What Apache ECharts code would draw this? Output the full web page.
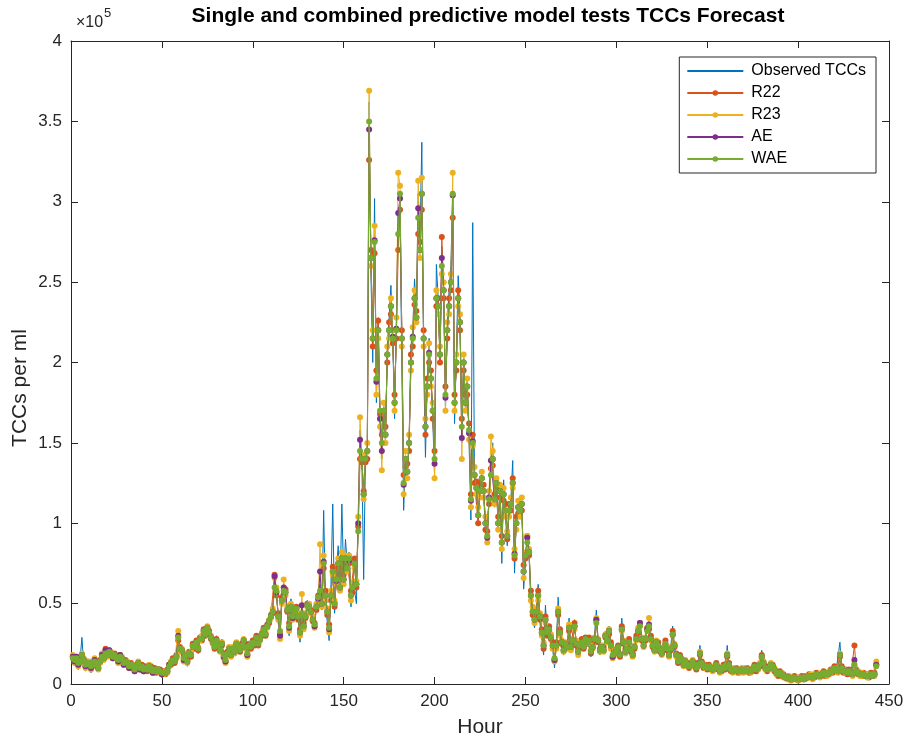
<!DOCTYPE html>
<html>
<head>
<meta charset="utf-8">
<script src="https://cdn.jsdelivr.net/npm/echarts@6/dist/echarts.min.js"></script>
<style>
  html, body { margin: 0; background: #fff; }
  #chart { width: 909px; height: 743px; }
</style>
</head>
<body>
<div id="chart"></div>
<script>
// TCC values in thousands per ml, one value per hour starting at hour 1
const observed = [
  16, 13, 18, 9, 15, 29, 12, 8, 14, 12,
  7, 11, 16, 10, 8, 15, 19, 14, 21, 18,
  22, 19, 16, 20, 15, 13, 18, 16, 11, 14,
  12, 9, 13, 10, 7, 12, 15, 8, 11, 7,
  10, 8, 12, 11, 6, 9, 7, 10, 8, 4,
  7, 6, 9, 12, 14, 16, 13, 19, 34, 21,
  23, 14, 19, 11, 21, 17, 26, 22, 28, 19,
  31, 27, 35, 30, 36, 31, 28, 25, 21, 30,
  24, 19, 28, 15, 12, 20, 23, 16, 24, 19,
  27, 22, 19, 25, 29, 21, 17, 26, 23, 28,
  24, 31, 23, 29, 33, 36, 29, 38, 41, 44,
  46, 65, 60, 38, 29, 56, 62, 58, 44, 30,
  53, 40, 46, 49, 41, 26, 47, 33, 43, 52,
  49, 44, 38, 35, 52, 57, 62, 46, 108, 52,
  38, 27, 62, 112, 44, 72, 86, 58, 112, 66,
  90, 74, 82, 48, 62, 58, 50, 104, 158, 140,
  65, 142, 145, 362, 255, 200, 302, 175, 228, 160,
  140, 175, 150, 210, 228, 248, 215, 165, 225, 294,
  290, 200, 108, 140, 128, 150, 210, 220, 252, 230,
  305, 280, 337, 200, 141, 190, 215, 190, 165, 130,
  261, 240, 201, 272, 250, 170, 225, 245, 260, 305,
  162, 205, 254, 230, 150, 205, 170, 190, 150, 102,
  287, 125, 118, 100, 125, 130, 118, 95, 88, 120,
  135, 150, 110, 128, 95, 125, 75, 127, 105, 86,
  110, 115, 139, 69, 105, 112, 108, 115, 59, 75,
  88, 80, 49, 40, 35, 45, 62, 38, 28, 18,
  49, 30, 35, 28, 22, 10, 25, 54, 30, 24,
  18, 26, 22, 41, 20, 28, 40, 22, 18, 25,
  27, 22, 30, 26, 28, 17, 24, 30, 46, 26,
  18, 24, 20, 33, 28, 36, 22, 15, 19, 21,
  24, 16, 41, 25, 18, 22, 28, 20, 16, 24,
  30, 35, 38, 26, 22, 30, 35, 38, 27, 22,
  19, 28, 24, 20, 18, 23, 26, 21, 17, 24,
  36, 22, 16, 12, 18, 14, 11, 15, 12, 10,
  13, 16, 12, 9, 14, 24, 12, 10, 11, 9,
  12, 10, 8, 11, 13, 9, 7, 10, 12, 9,
  24, 11, 8, 7, 9, 10, 8, 7, 9, 8,
  10, 9, 7, 8, 10, 12, 9, 11, 14, 21,
  12, 9, 8, 10, 13, 11, 8, 6, 5, 7,
  5, 4, 3, 4, 3, 2, 3, 4, 3, 2,
  3, 4, 3, 5, 4, 6, 5, 4, 6, 7,
  5, 4, 6, 8, 6, 5, 7, 9, 8, 12,
  9, 8, 26, 9, 7, 8, 7, 9, 6, 5,
  8, 7, 6, 5, 7, 6, 5, 4, 5, 6,
  5, 7, 12
];

const r22 = [
  17, 14, 17, 12, 15, 17, 14, 11, 14, 12,
  10, 13, 15, 11, 10, 15, 18, 17, 22, 19,
  21, 18, 16, 19, 17, 14, 18, 15, 12, 15,
  12, 10, 13, 10, 9, 12, 12, 9, 12, 8,
  11, 8, 10, 11, 7, 10, 7, 9, 9, 6,
  8, 6, 9, 12, 12, 16, 13, 18, 27, 23,
  20, 17, 17, 15, 20, 17, 25, 22, 27, 21,
  29, 27, 34, 30, 34, 33, 28, 27, 22, 28,
  23, 22, 24, 19, 14, 20, 21, 19, 21, 21,
  24, 24, 20, 25, 26, 24, 18, 25, 22, 27,
  24, 30, 24, 29, 30, 35, 30, 37, 38, 43,
  44, 68, 55, 44, 31, 54, 56, 59, 45, 38,
  46, 43, 44, 48, 40, 34, 43, 38, 41, 50,
  47, 46, 39, 38, 46, 55, 56, 52, 72, 58,
  43, 37, 52, 73, 48, 67, 72, 63, 75, 68,
  76, 74, 75, 58, 57, 78, 60, 98, 140, 138,
  120, 138, 140, 326, 270, 210, 268, 195, 226, 168,
  155, 165, 160, 200, 225, 230, 212, 180, 215, 270,
  295, 220, 130, 135, 137, 145, 205, 210, 236, 232,
  280, 275, 295, 220, 155, 190, 200, 195, 165, 145,
  235, 240, 200, 278, 240, 185, 215, 240, 245, 290,
  180, 195, 245, 220, 165, 195, 180, 180, 162, 118,
  155, 125, 126, 100, 125, 124, 124, 96, 95, 112,
  134, 136, 118, 122, 104, 116, 92, 114, 112, 90,
  112, 108, 128, 78, 104, 106, 112, 108, 74, 78,
  92, 80, 58, 43, 42, 43, 58, 40, 34, 22,
  42, 30, 36, 28, 26, 15, 26, 43, 34, 25,
  23, 24, 25, 33, 25, 26, 38, 24, 22, 23,
  28, 22, 29, 25, 29, 19, 25, 27, 40, 26,
  22, 22, 23, 29, 29, 31, 26, 17, 21, 20,
  24, 17, 36, 25, 22, 21, 28, 20, 19, 22,
  30, 31, 38, 27, 26, 27, 35, 34, 30, 23,
  22, 25, 26, 20, 20, 21, 27, 21, 19, 21,
  33, 23, 19, 13, 18, 14, 13, 13, 13, 10,
  13, 13, 13, 9, 13, 18, 14, 10, 12, 9,
  12, 9, 10, 9, 13, 9, 9, 8, 12, 9,
  17, 13, 8, 9, 8, 10, 7, 9, 8, 9,
  8, 10, 7, 9, 8, 12, 8, 11, 11, 18,
  12, 11, 8, 11, 11, 12, 8, 8, 5, 8,
  5, 6, 4, 5, 3, 4, 3, 5, 3, 4,
  3, 5, 3, 5, 4, 6, 4, 5, 4, 7,
  5, 6, 5, 8, 5, 7, 6, 9, 7, 11,
  8, 9, 17, 11, 7, 9, 6, 9, 6, 7,
  24, 9, 6, 7, 5, 7, 5, 6, 4, 7,
  5, 7, 12
];

const r23 = [
  18, 13, 17, 11, 13, 19, 16, 10, 12, 14,
  9, 12, 16, 13, 9, 13, 19, 15, 20, 17,
  21, 20, 16, 17, 17, 13, 18, 17, 12, 13,
  14, 10, 11, 12, 8, 10, 14, 9, 10, 8,
  9, 10, 12, 9, 7, 8, 9, 8, 7, 6,
  6, 8, 7, 12, 14, 14, 15, 16, 33, 20,
  22, 14, 19, 13, 18, 20, 23, 24, 25, 23,
  27, 30, 32, 33, 36, 30, 30, 25, 24, 26,
  25, 20, 26, 16, 13, 18, 23, 17, 23, 19,
  26, 22, 22, 23, 28, 22, 17, 23, 25, 25,
  26, 28, 26, 27, 32, 33, 32, 35, 40, 41,
  47, 66, 60, 40, 28, 50, 65, 55, 48, 33,
  50, 40, 47, 46, 44, 30, 56, 34, 44, 48,
  50, 44, 42, 35, 50, 52, 87, 48, 80, 52,
  47, 32, 58, 68, 52, 62, 78, 58, 82, 62,
  80, 70, 80, 52, 63, 72, 64, 104, 166, 142,
  115, 143, 150, 369, 260, 220, 285, 180, 215, 160,
  133, 175, 150, 210, 215, 240, 220, 170, 228, 318,
  310, 210, 118, 145, 128, 155, 195, 222, 245, 225,
  313, 265, 315, 210, 165, 180, 212, 185, 175, 128,
  245, 230, 210, 255, 250, 170, 225, 230, 255, 318,
  170, 205, 235, 230, 140, 205, 170, 190, 152, 110,
  148, 135, 118, 110, 116, 132, 116, 104, 88, 120,
  154, 145, 112, 128, 96, 124, 84, 122, 104, 95,
  104, 116, 122, 84, 96, 114, 104, 116, 66, 82,
  92, 84, 52, 48, 38, 47, 52, 44, 30, 26,
  38, 34, 32, 31, 22, 14, 22, 47, 30, 27,
  20, 26, 22, 37, 21, 28, 34, 27, 18, 25,
  25, 24, 27, 27, 25, 21, 22, 29, 41, 28,
  20, 24, 20, 31, 26, 34, 22, 16, 18, 22,
  22, 19, 33, 27, 19, 23, 25, 22, 17, 24,
  27, 35, 38, 29, 23, 29, 34, 41, 27, 25,
  20, 27, 23, 22, 18, 23, 24, 23, 17, 23,
  30, 25, 17, 15, 16, 16, 11, 15, 11, 12,
  11, 15, 11, 11, 11, 20, 12, 12, 10, 11,
  10, 11, 8, 11, 11, 11, 7, 10, 10, 11,
  19, 11, 10, 7, 10, 8, 9, 7, 10, 7,
  10, 8, 9, 7, 10, 10, 10, 9, 13, 16,
  14, 9, 10, 9, 13, 10, 10, 6, 7, 6,
  7, 4, 5, 3, 5, 2, 4, 3, 4, 2,
  4, 3, 4, 3, 5, 4, 6, 3, 6, 5,
  6, 4, 7, 6, 7, 5, 8, 7, 9, 9,
  10, 7, 19, 9, 9, 7, 8, 7, 8, 5,
  11, 7, 8, 5, 7, 5, 6, 4, 6, 5,
  6, 5, 14
];

const ae = [
  17, 14, 17, 12, 14, 18, 15, 11, 13, 13,
  10, 12, 15, 12, 10, 14, 18, 16, 21, 18,
  21, 19, 16, 18, 17, 14, 18, 16, 12, 14,
  13, 10, 12, 11, 8, 11, 13, 9, 11, 8,
  10, 9, 11, 10, 7, 9, 8, 9, 8, 6,
  7, 7, 8, 12, 13, 15, 14, 17, 30, 22,
  21, 15, 18, 14, 19, 18, 24, 23, 26, 22,
  28, 28, 33, 31, 35, 31, 29, 26, 23, 27,
  24, 21, 25, 17, 14, 19, 22, 18, 22, 20,
  25, 23, 21, 24, 27, 23, 18, 24, 23, 26,
  25, 29, 25, 28, 31, 34, 31, 36, 39, 42,
  45, 67, 57, 42, 30, 52, 60, 57, 46, 35,
  48, 41, 45, 47, 42, 32, 49, 36, 42, 49,
  48, 45, 40, 36, 48, 53, 70, 50, 76, 55,
  45, 34, 55, 70, 50, 64, 75, 60, 78, 65,
  78, 72, 77, 55, 60, 75, 62, 100, 152, 140,
  118, 140, 145, 345, 265, 215, 276, 188, 220, 165,
  145, 170, 155, 205, 220, 235, 216, 175, 221, 293,
  302, 215, 124, 140, 132, 150, 200, 216, 240, 228,
  296, 270, 305, 215, 160, 185, 206, 190, 170, 137,
  240, 235, 205, 265, 245, 178, 220, 235, 250, 304,
  175, 200, 240, 225, 153, 200, 175, 185, 156, 114,
  151, 130, 122, 105, 120, 128, 120, 100, 91, 116,
  139, 140, 115, 125, 100, 120, 88, 118, 108, 92,
  108, 112, 125, 81, 100, 110, 108, 112, 70, 80,
  91, 82, 55, 45, 40, 45, 55, 42, 32, 24,
  40, 32, 34, 29, 24, 15, 24, 45, 32, 26,
  21, 25, 23, 35, 23, 27, 36, 25, 20, 24,
  26, 23, 28, 26, 27, 20, 23, 28, 40, 27,
  21, 23, 21, 30, 27, 33, 24, 17, 19, 21,
  23, 18, 34, 26, 20, 22, 26, 21, 18, 23,
  28, 33, 38, 28, 24, 28, 34, 37, 28, 24,
  21, 26, 24, 21, 19, 22, 25, 22, 18, 22,
  31, 24, 18, 14, 17, 15, 12, 14, 12, 11,
  12, 14, 12, 10, 12, 19, 13, 11, 11, 10,
  11, 10, 9, 10, 12, 10, 8, 9, 11, 10,
  18, 12, 9, 8, 9, 9, 8, 8, 9, 8,
  9, 9, 8, 8, 9, 11, 9, 10, 12, 17,
  13, 10, 9, 10, 12, 11, 9, 7, 6, 7,
  6, 5, 4, 4, 4, 3, 3, 4, 3, 3,
  3, 4, 3, 4, 4, 5, 5, 4, 5, 6,
  5, 5, 6, 7, 6, 6, 7, 8, 8, 10,
  9, 8, 18, 10, 8, 8, 7, 8, 7, 6,
  15, 8, 7, 6, 6, 6, 5, 5, 5, 6,
  5, 6, 12
];

const wae = [
  16, 15, 16, 13, 14, 18, 15, 12, 13, 13,
  11, 12, 14, 12, 10, 14, 17, 16, 19, 18,
  20, 19, 17, 18, 16, 15, 17, 16, 13, 14,
  13, 11, 12, 11, 9, 11, 13, 10, 11, 9,
  10, 9, 11, 10, 8, 9, 8, 9, 8, 7,
  7, 7, 8, 11, 13, 15, 14, 17, 29, 22,
  21, 16, 18, 14, 19, 18, 24, 23, 26, 22,
  28, 28, 33, 31, 35, 32, 29, 26, 23, 27,
  24, 21, 25, 18, 15, 19, 22, 18, 22, 20,
  25, 23, 21, 24, 27, 23, 19, 24, 23, 26,
  25, 29, 25, 28, 31, 34, 31, 36, 39, 42,
  45, 60, 58, 42, 33, 52, 58, 57, 46, 36,
  48, 42, 45, 47, 42, 32, 44, 36, 42, 49,
  48, 45, 40, 37, 48, 54, 58, 50, 75, 55,
  45, 35, 55, 70, 50, 65, 75, 60, 78, 65,
  78, 72, 78, 55, 60, 75, 62, 95, 145, 140,
  118, 140, 145, 350, 265, 215, 275, 190, 220, 170,
  150, 170, 155, 205, 220, 235, 215, 175, 220, 280,
  305, 215, 125, 140, 132, 150, 200, 215, 240, 228,
  290, 270, 305, 215, 160, 185, 205, 190, 170, 140,
  240, 235, 205, 260, 245, 180, 220, 235, 250, 305,
  175, 200, 240, 225, 160, 200, 175, 185, 158, 115,
  150, 130, 122, 105, 120, 128, 120, 100, 92, 115,
  130, 140, 115, 125, 100, 120, 88, 118, 108, 92,
  108, 112, 125, 80, 100, 110, 108, 112, 70, 80,
  88, 82, 55, 45, 40, 45, 55, 42, 32, 24,
  40, 32, 34, 29, 24, 16, 24, 45, 32, 26,
  21, 25, 23, 35, 23, 27, 36, 25, 20, 24,
  26, 23, 28, 26, 27, 20, 23, 28, 38, 27,
  21, 23, 21, 30, 27, 33, 24, 18, 19, 21,
  23, 18, 34, 26, 20, 22, 26, 21, 18, 23,
  28, 33, 36, 28, 24, 28, 33, 36, 28, 24,
  21, 26, 24, 21, 19, 22, 25, 22, 18, 22,
  31, 24, 18, 14, 17, 15, 12, 14, 12, 11,
  12, 14, 12, 10, 12, 19, 13, 11, 11, 10,
  11, 10, 9, 10, 12, 10, 8, 9, 11, 10,
  18, 12, 9, 8, 9, 9, 8, 8, 9, 8,
  9, 9, 8, 8, 9, 11, 9, 10, 12, 17,
  13, 10, 9, 10, 12, 11, 9, 7, 6, 7,
  6, 5, 4, 4, 4, 3, 3, 4, 3, 3,
  3, 4, 3, 4, 4, 5, 5, 4, 5, 6,
  5, 5, 6, 7, 6, 6, 7, 8, 8, 10,
  9, 8, 18, 10, 8, 8, 7, 8, 7, 6,
  12, 8, 7, 6, 6, 6, 5, 5, 5, 6,
  5, 6, 11
];

const seriesNames = ['Observed TCCs', 'R22', 'R23', 'AE', 'WAE'];
const seriesColors = ['#0072BD', '#D95319', '#EDB120', '#7E2F8E', '#77AC30'];
const xTicks = [0, 50, 100, 150, 200, 250, 300, 350, 400, 450];

const FONT = '"Liberation Sans", Arial, Helvetica, sans-serif';
const INK = '#262626';

// hour index starts at 1
const toPairs = arr => arr.map((v, i) => [i + 1, v]);

const chart = echarts.init(document.getElementById('chart'));

const modelSeries = [r22, r23, ae, wae].map((arr, i) => ({
    name: seriesNames[i + 1],
    type: 'line',
    data: toPairs(arr),
    symbol: 'circle',
    symbolSize: 6,
    showAllSymbol: true,
    lineStyle: { width: 1, color: seriesColors[i + 1] },
    itemStyle: { color: seriesColors[i + 1] },
    emphasis: { disabled: true },
    z: 3 + i
}));

const axisCommon = {
    type: 'value',
    axisLine: { show: true, onZero: false, lineStyle: { color: INK, width: 1 } },
    axisTick: { show: true, inside: true, length: 7, lineStyle: { color: INK } },
    splitLine: { show: false }
};

// legend: observed shows a plain line, models a line with a small marker
const legendData = seriesNames.map((name, i) => i === 0
    ? { name, itemStyle: { color: 'rgba(0,0,0,0)', borderWidth: 0 } }
    : { name });

const option = {
    animation: false,
    backgroundColor: '#fff',
    textStyle: { fontFamily: FONT },
    title: {
        text: 'Single and combined predictive model tests TCCs Forecast',
        left: 483,
        top: 1,
        textAlign: 'center',
        textStyle: { fontSize: 21, fontWeight: 'bold', color: '#000', fontFamily: FONT }
    },
    legend: {
        orient: 'vertical',
        right: 33,
        top: 57,
        padding: [6, 10, 6, 7],
        itemGap: 6,
        itemWidth: 56,
        itemHeight: 7,
        backgroundColor: '#fff',
        borderColor: INK,
        borderWidth: 1,
        borderRadius: 0,
        textStyle: { fontSize: 16, color: '#000', fontFamily: FONT, padding: [0, 0, 0, 3] },
        data: legendData
    },
    grid: { left: 71, top: 41, width: 818, height: 648, containLabel: false },
    xAxis: [
        Object.assign({}, axisCommon, {
            position: 'bottom',
            min: xTicks[0],
            max: xTicks[xTicks.length - 1],
            interval: 50,
            name: 'Hour',
            nameLocation: 'middle',
            nameGap: 33,
            nameTextStyle: { fontSize: 21, color: INK },
            axisLabel: { fontSize: 17, color: INK, margin: 9 }
        }),
        Object.assign({}, axisCommon, {
            position: 'top',
            min: 0,
            max: 450,
            interval: 50,
            axisLabel: { show: false }
        })
    ],
    yAxis: [
        Object.assign({}, axisCommon, {
            position: 'left',
            min: 0,
            max: 400,
            interval: 50,
            axisLabel: { fontSize: 17, color: INK, margin: 9, formatter: v => String(v / 100) }
        }),
        Object.assign({}, axisCommon, {
            position: 'right',
            min: 0,
            max: 400,
            interval: 50,
            axisLabel: { show: false }
        })
    ],
    graphic: [
        { type: 'text', left: 76, top: 15, style: { text: '×10', fontSize: 16, fill: INK, fontFamily: FONT } },
        { type: 'text', left: 104, top: 7, style: { text: '5', fontSize: 13, fill: INK, fontFamily: FONT } },
        {
            type: 'text', x: 20, y: 388, rotation: Math.PI / 2,
            style: { text: 'TCCs per ml', fontSize: 21, fill: INK, fontFamily: FONT, align: 'center', verticalAlign: 'middle' }
        }
    ],
    series: [{
        name: seriesNames[0],
        type: 'line',
        data: toPairs(observed),
        symbol: 'none',
        lineStyle: { width: 1, color: seriesColors[0] },
        itemStyle: { color: seriesColors[0] },
        emphasis: { disabled: true },
        z: 2
    }].concat(modelSeries)
};

chart.setOption(option);
</script>
</body>
</html>
